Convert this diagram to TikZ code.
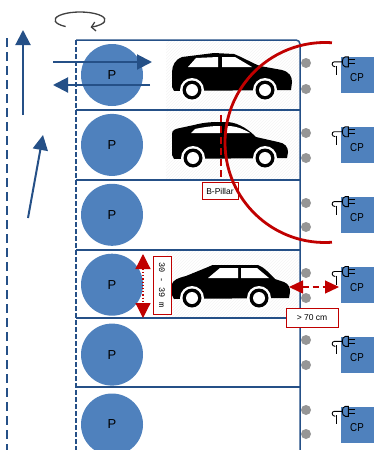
\documentclass[tikz,border=0pt]{standalone}
\usepackage{fontspec}
\usepackage{xcolor}
\setmainfont{Liberation Sans}
\newfontfamily\cpfont{Liberation Sans}[FakeStretch=0.85]
\newfontfamily\dimfont{Liberation Mono}
\usetikzlibrary{calc,positioning,arrows.meta,shapes,patterns}
\definecolor{laneblue}{RGB}{37,80,135}
\definecolor{spotblue}{RGB}{79,129,189}
\definecolor{signred}{RGB}{192,0,0}
\definecolor{pingray}{RGB}{150,150,150}
\tikzset{
  frame/.style={draw=laneblue, line width=1.5pt},
  lane/.style={draw=laneblue, line width=2pt, dash pattern=on 9pt off 5pt},
  kerb/.style={draw=laneblue, line width=1.6pt, dash pattern=on 4.5pt off 2.5pt},
  flow/.style={draw=laneblue, line width=2pt, -{Triangle[length=15pt,width=15pt]}},
  spot/.style={
    circle,
    fill=spotblue,
    minimum size=62pt,
    inner sep=0pt,
    font=\fontsize{13}{13}\selectfont},
  chargebox/.style={
    rectangle,
    fill=spotblue,
    minimum width=33pt,
    minimum height=36pt,
    inner sep=0pt,
    label={[cptext]center:CP}},
  cptext/.style={yshift=-3pt, font=\cpfont\fontsize{11.5}{12}\selectfont},
  pin/.style={circle, fill=pingray, minimum size=10pt, inner sep=0pt},
  measure/.style={rectangle, draw=signred, fill=white, line width=0.9pt, inner sep=1pt,
    font=\fontsize{8.5}{9}\selectfont},
  redarrow/.style={draw=signred, line width=1.2pt},
  hatch/.style={pattern=north east lines, pattern color=gray!9},
  plug/.pic={
    \draw[line width=0.9pt] (3,-5) -- (0,-5) .. controls (-4,-5) and (-4,5) .. (0,5) -- (3,5) -- cycle;
    \draw[line width=0.9pt] (3,-2) -- (10,-2) (3,2) -- (10,2);
    \draw[line width=0.9pt] (-3,0) -- (-11,0) .. controls (-14,0) and (-14,5) .. (-10,5);
    \draw[line width=0.9pt] (-9,4) -- (-9,13);
  },
  suv/.pic={
    \fill (2,-9) -- (0,-13) -- (0,-28) .. controls (0,-35) and (4,-41) .. (10,-43) -- (42,-47)
      -- (62,-46) .. controls (72,-42) and (80,-37) .. (88,-34) -- (110,-30)
      .. controls (117,-28) and (120,-24) .. (120,-18) -- (119,-10) -- cycle;
    \fill[white] (16,-33) -- (24,-42) -- (46,-43) -- (46,-33) -- cycle;
    \fill[white] (50,-43) -- (63,-43) -- (80,-33) -- (50,-33) -- cycle;
    \foreach \wx in {20,93} {
      \fill[white] (\wx,-10) circle (12);
      \fill (\wx,-10) circle (9.5);
      \fill[white] (\wx,-10) circle (6);
    }
  },
  sedan/.pic={
    \fill (2,-9) -- (0,-13) -- (0,-34) .. controls (0,-38) and (3,-39) .. (8,-40) -- (22,-43)
      .. controls (30,-45) and (36,-46) .. (48,-46) -- (56,-46) .. controls (68,-45) and (78,-37) .. (84,-31)
      -- (106,-26) .. controls (113,-25) and (116,-21) .. (116,-16) -- (115,-10) -- cycle;
    \fill[white] (19,-35) -- (23,-39) .. controls (32,-41) and (40,-42) .. (48,-42) -- (48,-35) -- cycle;
    \fill[white] (53,-42) -- (58,-42) .. controls (67,-41) and (73,-38) .. (78,-35) -- (53,-35) -- cycle;
    \foreach \wx in {21,93} {
      \fill[white] (\wx,-10) circle (12);
      \fill (\wx,-10) circle (9.5);
      \fill[white] (\wx,-10) circle (6);
    }
  },
  compact/.pic={
    \fill (2,-9) -- (0,-13) -- (0,-24) .. controls (1,-28) and (6,-30) .. (14,-32) -- (36,-41)
      .. controls (39,-43) and (41,-43) .. (44,-43) -- (86,-43) .. controls (92,-41) and (98,-34) .. (103,-29)
      -- (112,-26) .. controls (117,-24) and (118,-20) .. (118,-16) -- (117,-10) -- cycle;
    \fill[white] (36,-30) -- (48,-40) -- (66,-40) -- (66,-30) -- cycle;
    \fill[white] (69,-40) -- (85,-40) -- (97,-30) -- (69,-30) -- cycle;
    \foreach \wx in {20,87} {
      \fill[white] (\wx,-10) circle (12);
      \fill (\wx,-10) circle (9.5);
      \fill[white] (\wx,-10) circle (6);
    }
  },
}

\begin{document}
\begin{tikzpicture}[x=1pt, y=-1pt, node distance=7.5pt]
    \tikzset{
        turnarrow/.style={draw=black!75, line width=1.3pt, -{Straight Barb[length=4pt,width=9pt]}},
        pillar/.style={draw=signred, line width=2.2pt, dash pattern=on 7pt off 4pt},
        bigtip/.style={{Triangle[length=15pt,width=15pt]}-{Triangle[length=15pt,width=15pt]}},
        smalltip/.style={{Triangle[length=14pt,width=13pt]}-{Triangle[length=14pt,width=13pt]}},
    }
    \useasboundingbox (0,0) rectangle (380,450);

    % bays with a car in them
    \fill[hatch] (166,41) rectangle (299,109);
    \fill[hatch] (166,111) rectangle (299,179);
    \fill[hatch] (166,251) rectangle (299,317);

    \draw[lane] (7,38) -- (7,450);
    \draw[frame, rounded corners=4pt] (76,40) -- (300,40) -- (300,450);
    \draw[kerb] (76,40) -- (76,450);
    \draw[frame] (76,110) -- (300,110);
    \draw[frame] (76,180) -- (300,180);
    \draw[frame] (76,250) -- (300,250);
    \draw[frame] (76,318) -- (300,318);
    \draw[frame] (76,387) -- (300,387);

    \node[spot] (park1) at (112,75) {P};
    \node[spot, below=of park1] (park2) {P};
    \node[spot, below=of park2] (park3) {P};
    \node[spot, below=of park3] (park4) {P};
    \node[spot, below=of park4] (park5) {P};
    \node[spot, below=of park5] (park6) {P};

    \pic at (172,100) {suv};
    \pic at (172,168) {sedan};
    \pic at (172,308) {compact};

    \node[pin] (pin1a) at (306,63) {};
    \node[pin] (pin1b) at (306,89) {};
    \node[pin] (pin2a) at (306,133) {};
    \node[pin] (pin2b) at (306,158) {};
    \node[pin] (pin3a) at (306,203) {};
    \node[pin] (pin3b) at (306,227) {};
    \node[pin] (pin4a) at (306,273) {};
    \node[pin] (pin4b) at (306,298) {};
    \node[pin] (pin5a) at (306,340) {};
    \node[pin] (pin5b) at (306,365) {};
    \node[pin] (pin6a) at (306,410) {};
    \node[pin] (pin6b) at (306,434) {};

    \node[chargebox] (cp1) at (357,75) {};
    \node[chargebox, below=33.5pt of cp1] (cp2) {};
    \node[chargebox, below=33.5pt of cp2] (cp3) {};
    \node[chargebox, below=33.5pt of cp3] (cp4) {};
    \node[chargebox, below=33.5pt of cp4] (cp5) {};
    \node[chargebox, below=33.5pt of cp5] (cp6) {};

    \pic at ($(cp1.north west)+(5,5)$) {plug};
    \pic at ($(cp2.north west)+(5,5)$) {plug};
    \pic at ($(cp3.north west)+(5,5)$) {plug};
    \pic at ($(cp4.north west)+(5,5)$) {plug};
    \pic at ($(cp5.north west)+(5,5)$) {plug};
    \pic at ($(cp6.north west)+(5,5)$) {plug};

    % B-pillar and the swing of the door
    \coordinate (pillarTop) at (221,115);
    \coordinate (pillarBot) at (221,177);
    \draw[pillar] (pillarTop) -- (pillarBot);
    \node[measure, minimum width=36pt, minimum height=17pt] (bpillar) at (220,191) {B-Pillar};
    \coordinate (sweep) at (325,142.5);
    \draw[signred, line width=2.8pt] (sweep) ++(86:100) arc[start angle=86, end angle=274, radius=100];

    % bay width and distance to the charge point
    \coordinate (gapTop) at (143,254);
    \coordinate (gapBot) at (143,318);
    \draw[redarrow, dotted, bigtip] (gapTop) -- (gapBot);
    \node[measure, rotate=-90, font=\dimfont\fontsize{8.5}{9}\selectfont,
        minimum width=58pt, minimum height=18pt] (gapLabel) at (162,285) {30 - 39 m};
    \coordinate (clearL) at (289,287);
    \coordinate (clearR) at (339,287);
    \draw[redarrow, dash pattern=on 6pt off 4pt, smalltip] (clearL) -- (clearR);
    \node[measure, minimum width=52pt, minimum height=19pt] (clearLabel) at (312,318) {> 70 cm};

    % driving directions
    \coordinate (up0) at (23,115);
    \coordinate (up1) at (23,30);
    \coordinate (in0) at (28,218);
    \coordinate (in1) at (43,135);
    \coordinate (out0) at (53,62);
    \coordinate (out1) at (152,62);
    \coordinate (back0) at (150,85);
    \coordinate (back1) at (53,85);
    \draw[flow] (up0) -- (up1);
    \draw[flow] (in0) -- (in1);
    \draw[flow] (out0) -- (out1);
    \draw[flow] (back0) -- (back1);

    \coordinate (turn) at (80,20);
    \draw[turnarrow] (turn) ++(125:25 and 8) arc[start angle=125, end angle=425, x radius=25, y radius=8];
\end{tikzpicture}
\end{document}
